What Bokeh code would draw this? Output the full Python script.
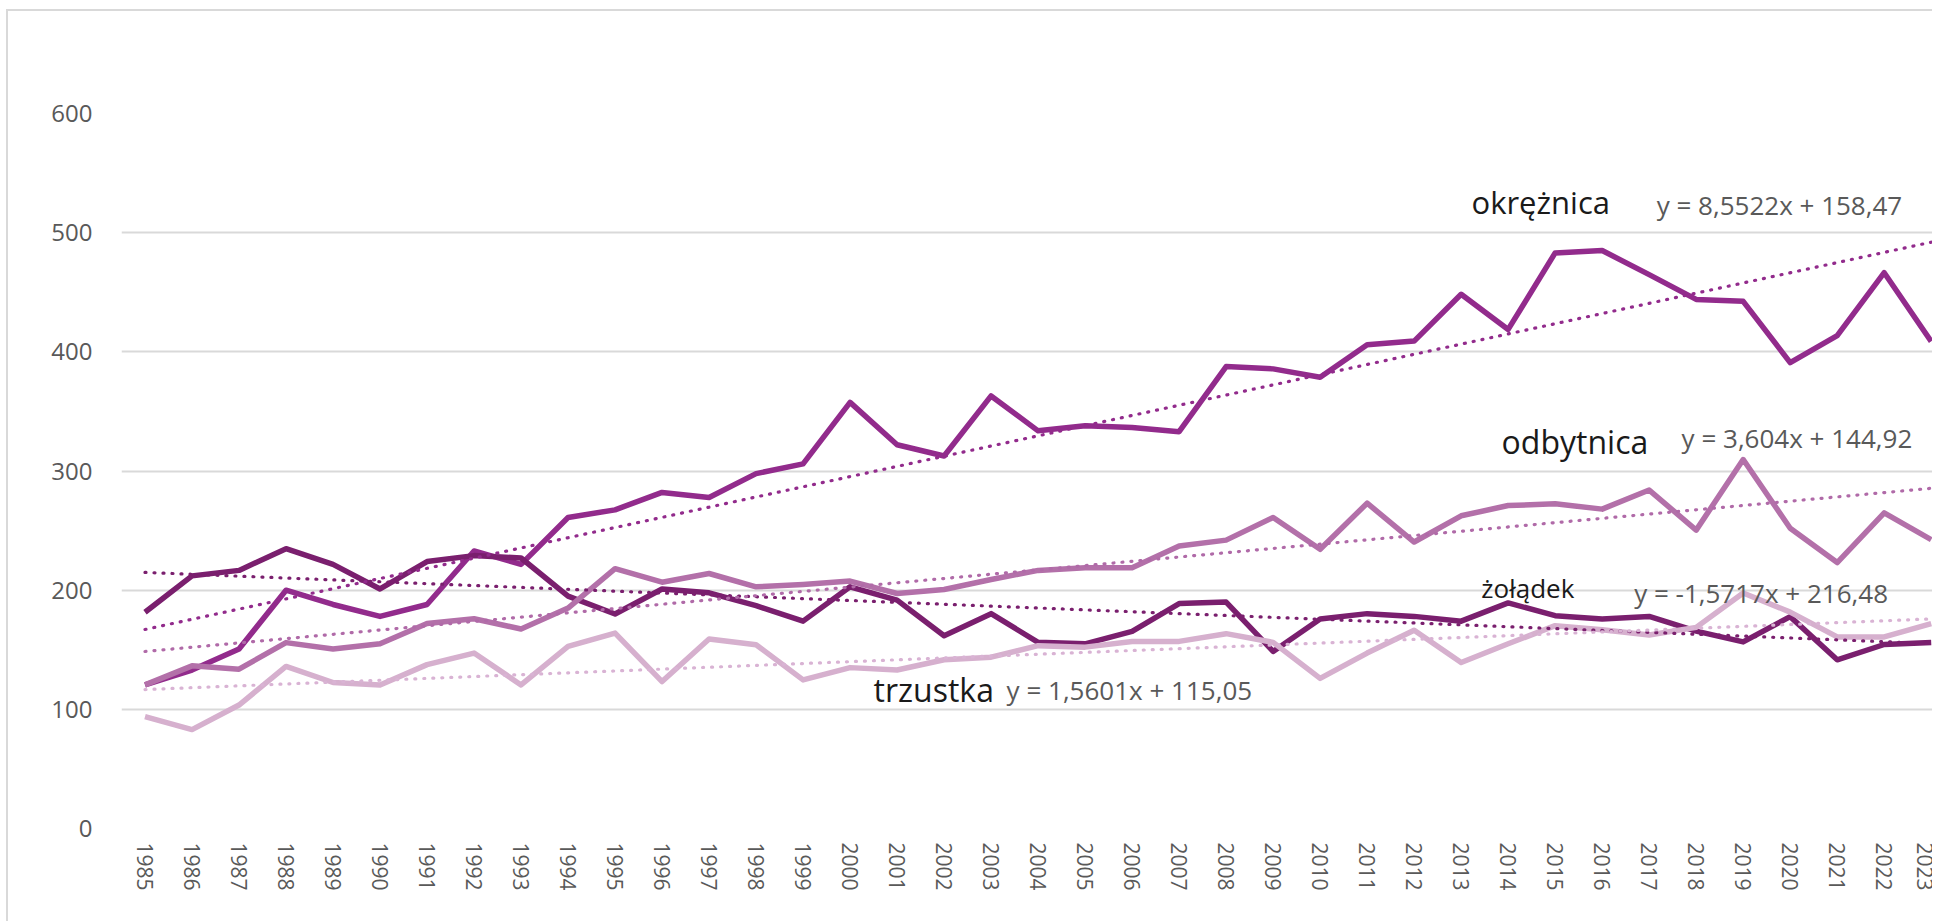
from bokeh.plotting import figure
from bokeh.models import FixedTicker, ColumnDataSource
from bokeh.core.properties import value
from bokeh.embed import file_html
from bokeh.resources import INLINE

years = list(range(1985, 2024))
series_names = ["okrężnica", "żołądek", "odbytnica", "trzustka"]
okreznica = [120.5, 133, 150.6, 200, 188, 178, 188, 232.9, 221.6, 261,
             267.4, 282, 277.8, 297.8, 306, 357.6, 322, 312.6, 363, 333.7,
             338, 336.5, 333, 387.6, 385.7, 378.7, 406, 409, 448.3, 418.8,
             483, 485, 464.8, 444, 442.4, 391, 413.6, 466.4, 408.8]
zoladek = [181.5, 212, 216.6, 234.8, 221.6, 201, 224, 229, 227, 195,
           180, 201, 197.8, 187, 174, 202.8, 191.6, 161.8, 180.3, 156.2,
           155, 165.4, 188.8, 190, 148.6, 175.8, 180.3, 178, 174, 189.3,
           178.6, 175.8, 178, 165.6, 156.6, 177.8, 141.6, 154.4, 156]
odbytnica = [120.5, 136.5, 133.7, 156, 150.6, 155, 172, 176, 167.4, 185,
             218, 206.7, 214, 202.8, 204.8, 207.6, 197.2, 200.6, 209, 216.6,
             218.8, 218.8, 237, 242, 261, 234.3, 273, 240.4, 262.4, 271,
             272.5, 268, 284, 250.4, 309.6, 252, 223.2, 264.8, 242.4]
trzustka = [93.8, 83, 103.6, 136, 122.5, 120.5, 137.5, 147.2, 120.5, 152.8,
            164, 123.3, 159, 154.2, 124.7, 135, 133, 141.6, 143.8, 153.4,
            152.2, 157, 157, 163.5, 156.2, 126, 147.2, 166.3, 139.3, 155,
            170.2, 166.8, 162.4, 168.8, 197.6, 181.6, 160.8, 160.8, 172]
# Excel linear trend coefficients (x = 1..n)
trend_slope = [8.5522, -1.5717, 3.604, 1.5601]
trend_icpt = [158.47, 216.48, 144.92, 115.05]
equations = ["y = 8,5522x + 158,47", "y = -1,5717x + 216,48",
             "y = 3,604x + 144,92", "y = 1,5601x + 115,05"]
y_ticks = [0, 100, 200, 300, 400, 500, 600]

colors = ["#922B8C", "#7A1F6E", "#B370A9", "#D6B0CE"]
trend_colors = ["#922B8C", "#7A1F6E", "#B06AA8", "#D9B3D4"]
data = [okreznica, zoladek, odbytnica, trzustka]

p = figure(width=1926, height=912, x_range=(1984.5, 2023.07), y_range=(0, 600),
           output_backend="svg", toolbar_location=None,
           min_border_left=113, min_border_right=0, min_border_top=102,
           min_border_bottom=95)
p.styles = {"margin-left": "6px", "margin-top": "9px",
            "border-left": "2px solid #d9d9d9", "border-top": "2px solid #d9d9d9"}
p.outline_line_color = None
p.background_fill_color = "white"
p.border_fill_color = "white"

p.xaxis.ticker = FixedTicker(ticks=years)
p.yaxis.ticker = FixedTicker(ticks=y_ticks)
p.xgrid.grid_line_color = None
p.ygrid.grid_line_color = "#d9d9d9"
p.ygrid.grid_line_width = 2
for ax in (p.xaxis, p.yaxis):
    ax.axis_line_color = None
    ax.major_tick_line_color = None
    ax.minor_tick_line_color = None
    ax.major_tick_out = 0
    ax.major_tick_in = 0
    ax.minor_tick_out = 0
    ax.major_label_text_font = "Open Sans"
    ax.major_label_text_color = "#595959"
p.yaxis.major_label_text_font_size = "24px"
p.xaxis.major_label_text_font_size = "21px"
p.xaxis.major_label_orientation = "vertical"
p.xaxis.major_label_standoff = 14
p.yaxis.major_label_standoff = 29

order = [0, 1, 2, 3]
for i in order:
    p.line(years, data[i], line_color=colors[i], line_width=5.5,
           line_join="round")

n = len(years)
for i in order:
    xs = [years[0], years[-1]]
    ys = [trend_slope[i] * 1 + trend_icpt[i], trend_slope[i] * n + trend_icpt[i]]
    p.line(xs, ys, line_color=trend_colors[i], line_width=3.2,
           line_dash="1 8", line_cap="round")

# category labels
lab = ColumnDataSource(dict(
    x=[2013.22, 2013.43, 2013.86, 2000.5],
    y=[526, 202, 325, 117],
    t=series_names,
    s=["31px", "26px", "32px", "32px"],
))
p.text(x="x", y="y", text="t", source=lab, text_font=value("Open Sans"),
       text_font_size="s", text_color="#1a1a1a",
       text_align="left", text_baseline="middle")

eq = ColumnDataSource(dict(
    x=[2017.16, 2016.68, 2017.69, 2003.33],
    y=[523, 198, 328, 116.5],
    t=equations,
))
p.text(x="x", y="y", text="t", source=eq, text_font=value("Open Sans"),
       text_font_size="26px", text_color="#595959",
       text_align="left", text_baseline="middle")

open("out.html", "w").write(file_html(p, INLINE))
